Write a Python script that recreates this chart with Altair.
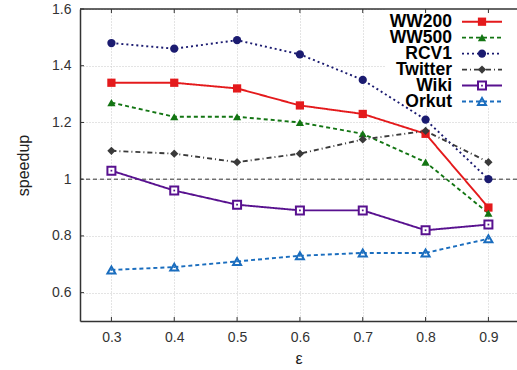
import altair as alt
import pandas as pd

# ---- data -------------------------------------------------------------
eps = [0.3, 0.4, 0.5, 0.6, 0.7, 0.8, 0.9]
series = ["WW200", "WW500", "RCV1", "Twitter", "Wiki", "Orkut"]
ww200 = [1.34, 1.34, 1.32, 1.26, 1.23, 1.16, 0.90]
ww500 = [1.27, 1.22, 1.22, 1.20, 1.16, 1.06, 0.88]
rcv1 = [1.48, 1.46, 1.49, 1.44, 1.35, 1.21, 1.00]
twitter = [1.10, 1.09, 1.06, 1.09, 1.14, 1.17, 1.06]
wiki = [1.03, 0.96, 0.91, 0.89, 0.89, 0.82, 0.84]
orkut = [0.68, 0.69, 0.71, 0.73, 0.74, 0.74, 0.79]
y_ticks = [0.6, 0.8, 1.0, 1.2, 1.4, 1.6]
baseline = [1.0]

# ---- styles -----------------------------------------------------------
colors = ["#e41a1c", "#137513", "#1b1b70", "#3a3a3a", "#58118f", "#1a6dbe"]
shapes = ["square", "triangle-up", "circle", "diamond", "square", "triangle-up"]
dashes = [[1, 0], [4, 3], [2, 3], [5, 3, 1, 3], [1, 0], [4, 3]]
filled_series = series[:4]
open_series = series[4:]

W, H = 437, 312
FONT = "Liberation Sans"

values = [ww200, ww500, rcv1, twitter, wiki, orkut]
df = pd.DataFrame(
    [{"eps": e, "speedup": v, "series": s}
     for s, vals in zip(series, values) for e, v in zip(eps, vals)]
)
eps_df = pd.DataFrame({"eps": eps})
yt_df = pd.DataFrame({"speedup": y_ticks})
base_df = pd.DataFrame({"speedup": baseline})
legend_df = pd.DataFrame({"series": series})
blank = alt.Data(values=[{}])

xs = alt.Scale(domain=[0.25, 0.9455], nice=False, zero=False)
ys = alt.Scale(domain=[0.5, 1.6], nice=False, zero=False)
x_axis = alt.Axis(values=eps, format=".1f", grid=True, ticks=False,
                  labelPadding=9, titlePadding=6)
y_axis = alt.Axis(values=y_ticks, format="~g", grid=True, ticks=False,
                  labelPadding=9, titlePadding=20)
X = alt.X("eps:Q", scale=xs, axis=x_axis, title="ε")
Y = alt.Y("speedup:Q", scale=ys, axis=y_axis, title="speedup")

color_scale = alt.Scale(domain=series, range=colors)
dash_scale = alt.Scale(domain=series, range=dashes)
shape_scale = alt.Scale(domain=series, range=shapes)

# white box behind the key hides the grid
key_box = alt.Chart(blank).mark_rect(color="white").encode(
    x=alt.value(305), x2=alt.value(W), y=alt.value(0), y2=alt.value(99)
)

base_rule = alt.Chart(base_df).mark_rule(
    color="#333333", strokeDash=[4, 3], strokeWidth=1
).encode(y=Y)

lines = alt.Chart(df).mark_line(strokeWidth=1.9).encode(
    x=X, y=Y,
    color=alt.Color("series:N", scale=color_scale, legend=None),
    strokeDash=alt.StrokeDash("series:N", scale=dash_scale, legend=None),
)

solid_pts = alt.Chart(df).transform_filter(
    alt.FieldOneOfPredicate(field="series", oneOf=filled_series)
).mark_point(filled=True, opacity=1, size=68).encode(
    x=X, y=Y,
    color=alt.Color("series:N", scale=color_scale, legend=None),
    shape=alt.Shape("series:N", scale=shape_scale, legend=None),
)

open_pts = alt.Chart(df).transform_filter(
    alt.FieldOneOfPredicate(field="series", oneOf=open_series)
).mark_point(filled=False, fill="white", opacity=1, strokeWidth=2, size=64).encode(
    x=X, y=Y,
    stroke=alt.Stroke("series:N", scale=color_scale, legend=None),
    shape=alt.Shape("series:N", scale=shape_scale, legend=None),
)

open_dots = alt.Chart(df).transform_filter(
    alt.FieldOneOfPredicate(field="series", oneOf=open_series)
).mark_point(filled=True, opacity=1, size=3, shape="square").encode(
    x=X, y=Y,
    color=alt.Color("series:N", scale=color_scale, legend=None),
)

# inward tick marks and the top frame line
tick_style = dict(color="#333333", strokeWidth=1)
x_ticks_bottom = alt.Chart(eps_df).mark_rule(**tick_style).encode(
    x=X, y=alt.value(H), y2=alt.value(H - 4))
x_ticks_top = alt.Chart(eps_df).mark_rule(**tick_style).encode(
    x=X, y=alt.value(0), y2=alt.value(4))
y_ticks_left = alt.Chart(yt_df).mark_rule(**tick_style).encode(
    y=Y, x=alt.value(0), x2=alt.value(4))
top_frame = alt.Chart(blank).mark_rule(color="#333333", strokeWidth=1.5).encode(
    x=alt.value(0), x2=alt.value(W), y=alt.value(0))

plot = alt.layer(key_box, base_rule, lines, solid_pts, open_pts, open_dots,
                 x_ticks_bottom, x_ticks_top, y_ticks_left, top_frame)

# key: label, line sample, marker
LY = alt.Y("series:N", scale=alt.Scale(type="point", domain=series,
                                        range=[12.7, 92.5], padding=0), axis=None)
key_text = alt.Chart(legend_df).mark_text(
    align="right", baseline="middle", font=FONT, fontSize=17.5, fontWeight="bold",
    color="black"
).encode(x=alt.value(372), y=LY, text="series:N")
key_lines = alt.Chart(legend_df).mark_rule(strokeWidth=1.9).encode(
    x=alt.value(382), x2=alt.value(422), y=LY,
    color=alt.Color("series:N", scale=color_scale, legend=None),
    strokeDash=alt.StrokeDash("series:N", scale=dash_scale, legend=None),
)
key_solid = alt.Chart(legend_df).transform_filter(
    alt.FieldOneOfPredicate(field="series", oneOf=filled_series)
).mark_point(filled=True, opacity=1, size=68).encode(
    x=alt.value(402), y=LY,
    color=alt.Color("series:N", scale=color_scale, legend=None),
    shape=alt.Shape("series:N", scale=shape_scale, legend=None),
)
key_open = alt.Chart(legend_df).transform_filter(
    alt.FieldOneOfPredicate(field="series", oneOf=open_series)
).mark_point(filled=False, fill="white", opacity=1, strokeWidth=2, size=64).encode(
    x=alt.value(402), y=LY,
    stroke=alt.Stroke("series:N", scale=color_scale, legend=None),
    shape=alt.Shape("series:N", scale=shape_scale, legend=None),
)
key_dots = alt.Chart(legend_df).transform_filter(
    alt.FieldOneOfPredicate(field="series", oneOf=open_series)
).mark_point(filled=True, opacity=1, size=3, shape="square").encode(
    x=alt.value(402), y=LY,
    color=alt.Color("series:N", scale=color_scale, legend=None),
)
key = alt.layer(key_text, key_lines, key_solid, key_open, key_dots)

chart = alt.layer(plot, key).resolve_scale(
    x="independent", y="independent"
).properties(
    width=W, height=H,
    autosize=alt.AutoSizeParams(type="none"),
    padding={"left": 80, "top": 9, "right": 0, "bottom": 49},
).configure_view(stroke=None).configure_axis(
    labelFont=FONT, titleFont=FONT, labelFontSize=14, titleFontSize=16,
    titleFontWeight="normal", labelColor="#333333", titleColor="#222222",
    domainColor="#333333", domainWidth=1.5,
    gridColor="#c8c8c8", gridDash=[1, 2], gridWidth=1,
)

chart.save("out.html", embed_options={"renderer": "svg", "actions": False})
